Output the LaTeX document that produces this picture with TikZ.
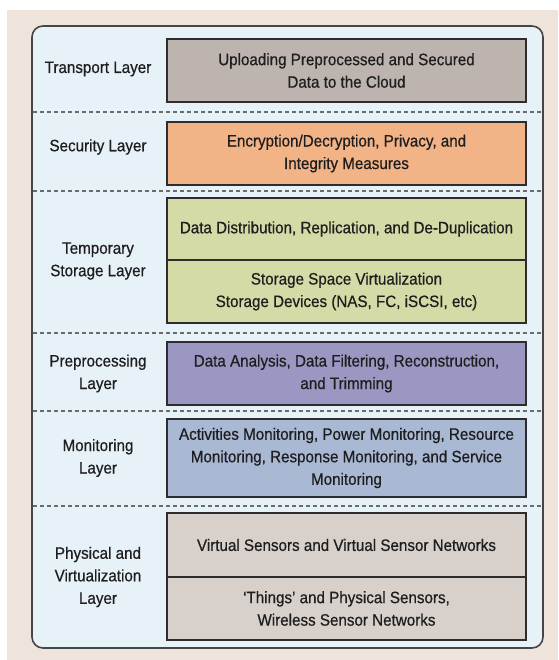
\documentclass[tikz,border=0pt]{standalone}
\usepackage{fontspec}
\setmainfont[FakeStretch=0.92,FakeBold=0.6]{Liberation Sans}
\definecolor{pagebg}{RGB}{239,228,219}
\definecolor{panelfill}{RGB}{231,242,248}
\definecolor{panelline}{RGB}{70,70,70}
\definecolor{boxline}{RGB}{45,45,45}
\definecolor{txt}{RGB}{30,30,30}
\definecolor{transportc}{RGB}{189,179,175}
\definecolor{securityc}{RGB}{242,180,135}
\definecolor{storagec}{RGB}{213,219,166}
\definecolor{preprocc}{RGB}{155,151,195}
\definecolor{monitorc}{RGB}{169,184,211}
\definecolor{physicalc}{RGB}{216,208,203}
\newcommand{\lfont}{\fontsize{16.5}{22.5}\selectfont}
\begin{document}
\begin{tikzpicture}[x=1pt,y=-1pt,
  layerbox/.style={draw=boxline, line width=1.3pt, minimum width=359pt,
    align=center, inner sep=0pt, font=\lfont, text=txt},
  layername/.style={align=center, font=\lfont, text=txt},
  sepline/.style={draw=panelline!80, dashed, dash pattern=on 4pt off 3pt, line width=1.2pt}]
% page and panel
\useasboundingbox (0,0) rectangle (558,660);
\fill[white] (0,0) rectangle (558,660);
\fill[pagebg] (7,10) rectangle (558,660);
\draw[panelline, line width=1.6pt, fill=panelfill, rounded corners=11pt] (32,26) rectangle (543,648);
% layer separators
\foreach \y in {112,191,333,411,506} \draw[sepline] (33,\y) -- (542,\y);
% content boxes
\node[layerbox, fill=transportc, minimum height=63pt] (transport) at (346.5,70.5)
  {Uploading Preprocessed and Secured\\Data to the Cloud};
\node[layerbox, fill=securityc, minimum height=63pt] (security) at (346.5,153.5)
  {Encryption/Decryption, Privacy, and\\Integrity Measures};
\node[layerbox, fill=storagec, minimum height=62pt] (storeA) at (346.5,229)
  {Data Distribution, Replication, and De-Duplication};
\node[layerbox, fill=storagec, minimum height=63pt] (storeB) at (346.5,291.5)
  {Storage Space Virtualization\\Storage Devices (NAS, FC, iSCSI, etc)};
\node[layerbox, fill=preprocc, minimum height=63pt] (preproc) at (346.5,373.5)
  {Data Analysis, Data Filtering, Reconstruction,\\and Trimming};
\node[layerbox, fill=monitorc, minimum height=78pt] (monitor) at (346.5,458)
  {Activities Monitoring, Power Monitoring, Resource\\Monitoring, Response Monitoring, and Service\\Monitoring};
\node[layerbox, fill=physicalc, minimum height=64pt] (physA) at (346.5,545)
  {Virtual Sensors and Virtual Sensor Networks};
\node[layerbox, fill=physicalc, minimum height=63pt] (physB) at (346.5,608.5)
  {`Things' and Physical Sensors,\\Wireless Sensor Networks};
% layer names
\node[layername] (nTransport) at (98,69) {Transport Layer};
\node[layername] (nSecurity) at (98,147) {Security Layer};
\node[layername] (nStorage) at (98,261) {Temporary\\Storage Layer};
\node[layername] (nPreproc) at (98,373.5) {Preprocessing\\Layer};
\node[layername] (nMonitor) at (98,458) {Monitoring\\Layer};
\node[layername] (nPhysical) at (98,577) {Physical and\\Virtualization\\Layer};
\end{tikzpicture}
\end{document}
